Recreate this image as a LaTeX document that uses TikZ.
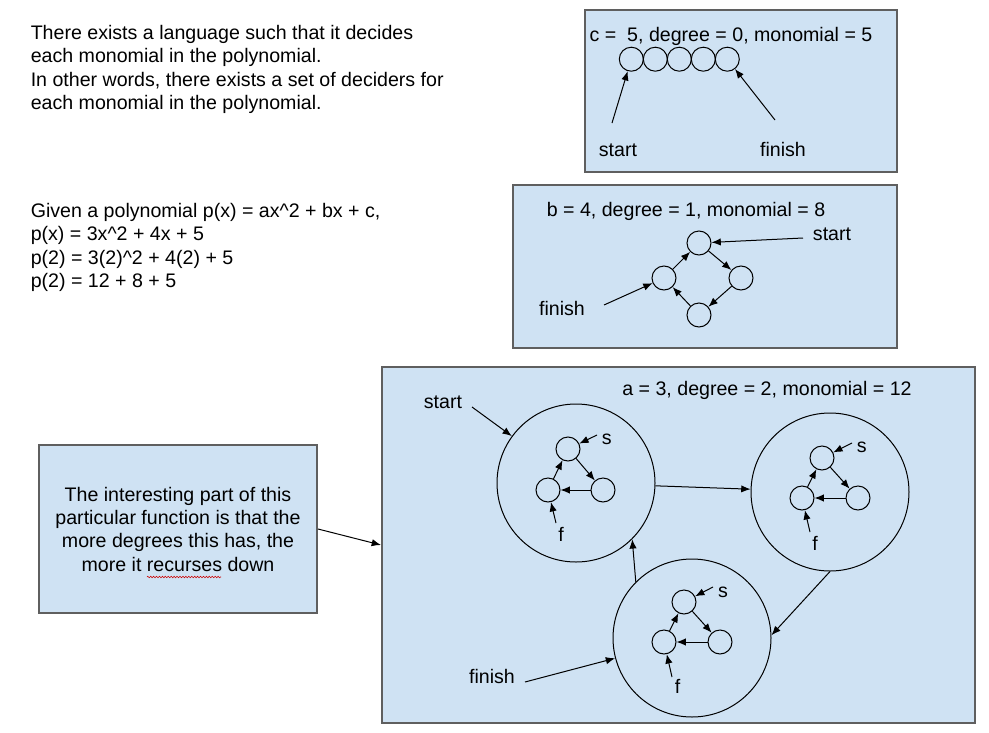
\documentclass[tikz,border=0pt]{standalone}
\usepackage{fontspec}
\setmainfont{Liberation Sans}
\usetikzlibrary{arrows.meta,decorations.pathmorphing}
\definecolor{boxfill}{HTML}{CFE2F3}
\definecolor{boxline}{HTML}{5F5F5F}
\begin{document}
\begin{tikzpicture}[x=0.75pt,y=-0.75pt,
  txt/.style={font=\fontsize{14.7}{17.5}\selectfont, inner sep=0pt, text=black},
  panel/.style={draw=boxline, fill=boxfill, line width=1.5pt, rectangle, inner sep=0pt},
  st/.style={draw=black, circle, line width=0.75pt, minimum size=18pt, inner sep=0pt},
  big/.style={draw=black, circle, line width=0.75pt, minimum size=118.5pt, inner sep=0pt},
  arr/.style={draw=black, line width=0.75pt, -{Latex[length=7pt,width=5.5pt]}}
]
\useasboundingbox (0,0) rectangle (989,732);
\fill[white] (0,0) rectangle (989,732);

% left texts
\node[txt, anchor=base west] (p1a) at (30.5,39.3) {There exists a language such that it decides};
\node[txt, anchor=base west] (p1b) at (30.5,62.7) {each monomial in the polynomial.};
\node[txt, anchor=base west] (p1c) at (30.5,86.1) {In other words, there exists a set of deciders for};
\node[txt, anchor=base west] (p1d) at (30.5,109.5) {each monomial in the polynomial.};
\node[txt, anchor=base west] (p2a) at (30.5,217.3) {Given a polynomial p(x) = ax\^{}2 + bx + c,};
\node[txt, anchor=base west] (p2b) at (30.5,240.7) {p(x) = 3x\^{}2 + 4x + 5};
\node[txt, anchor=base west] (p2c) at (30.5,264.1) {p(2) = 3(2)\^{}2 + 4(2) + 5};
\node[txt, anchor=base west] (p2d) at (30.5,287.5) {p(2) = 12 + 8 + 5};

% panels
\node[panel, minimum width=234pt, minimum height=121.5pt] (boxC) at (741,91) {};
\node[panel, minimum width=288pt, minimum height=122.25pt] (boxB) at (705,266.5) {};
\node[panel, minimum width=444.75pt, minimum height=267pt] (boxA) at (678.5,545) {};
\node[panel, txt, align=center, minimum width=208.5pt, minimum height=126pt] (lbox) at (178,529)
  {The interesting part of this\\particular function is that the\\more degrees this has, the\\more it recurses down};
\draw[red!80!black, line width=0.4pt, decorate, decoration={zigzag, amplitude=0.6pt, segment length=2.2pt}] (147,577) -- (221,577);
\draw[arr] (lbox.east) -- (boxA.west);

% box C
\node[txt, anchor=base] (tC) at (731,41) {c = \ 5, degree = 0, monomial = 5};
\foreach \i/\x in {1/631.3,2/655.3,3/679.3,4/703.3,5/727.3}
  \node[st] (c\i) at (\x,59.2) {};
\node[txt, anchor=base] (sC) at (618,156.7) {start};
\node[txt, anchor=base] (fC) at (783,156.7) {finish};
\coordinate (sCa) at (612,123);
\coordinate (fCa) at (775,120);
\draw[arr] (sCa) -- (c1);
\draw[arr] (fCa) -- (c5);

% box B
\node[txt, anchor=base] (tB) at (686,216) {b = 4, degree = 1, monomial = 8};
\node[st] (bt) at (699,243) {};
\node[st] (bl) at (664,278) {};
\node[st] (br) at (741,278) {};
\node[st] (bb) at (699,315) {};
\draw[arr] (bl) -- (bt);
\draw[arr] (bt) -- (br);
\draw[arr] (br) -- (bb);
\draw[arr] (bb) -- (bl);
\node[txt, anchor=base] (sB) at (832,240.7) {start};
\node[txt, anchor=base] (fB) at (562,315) {finish};
\coordinate (sBa) at (803,238);
\coordinate (fBa) at (604,305);
\draw[arr] (sBa) -- (bt);
\draw[arr] (fBa) -- (bl);

% box A
\node[txt, anchor=base] (tA) at (767,395) {a = 3, degree = 2, monomial = 12};
\node[big] (C1) at (576,483) {};
\node[big] (C2) at (830,492) {};
\node[big] (C3) at (692,638) {};
\draw[arr] (C1) -- (C2);
\draw[arr] (C3.135) -- (C1.-45);
\draw[arr] (C2.-90) -- (C3.2);
\node[txt, anchor=base] (sA) at (443,408) {start};
\node[txt, anchor=base] (fA) at (492,683) {finish};
\coordinate (sAa) at (472,407);
\coordinate (fAa) at (525,682);
\draw[arr] (sAa) -- (C1);
\draw[arr] (fAa) -- (C3);

% inner graphs
\foreach \n/\tx/\ty/\lx/\ly/\rx/\ry/\sx/\sy/\sax/\say/\fx/\fy/\fax/\fay in {
  1/568/449/548/490/603/490/606.7/444/597/435/561/541.7/556/523,
  2/822/458/802/498/858/498/861.7/452.7/852/443/815/550/810/532,
  3/684/602/664/642/720/642/723/597.3/713/587/677.7/693/672/677}{
  \node[st] (t\n) at (\tx,\ty) {};
  \node[st] (l\n) at (\lx,\ly) {};
  \node[st] (r\n) at (\rx,\ry) {};
  \draw[arr] (l\n) -- (t\n);
  \draw[arr] (t\n) -- (r\n);
  \draw[arr] (r\n) -- (l\n);
  \node[txt, anchor=base] (s\n) at (\sx,\sy) {s};
  \node[txt, anchor=base] (f\n) at (\fx,\fy) {f};
  \coordinate (sa\n) at (\sax,\say);
  \coordinate (fa\n) at (\fax,\fay);
  \draw[arr] (sa\n) -- (t\n);
  \draw[arr] (fa\n) -- (l\n);
}
\end{tikzpicture}
\end{document}
